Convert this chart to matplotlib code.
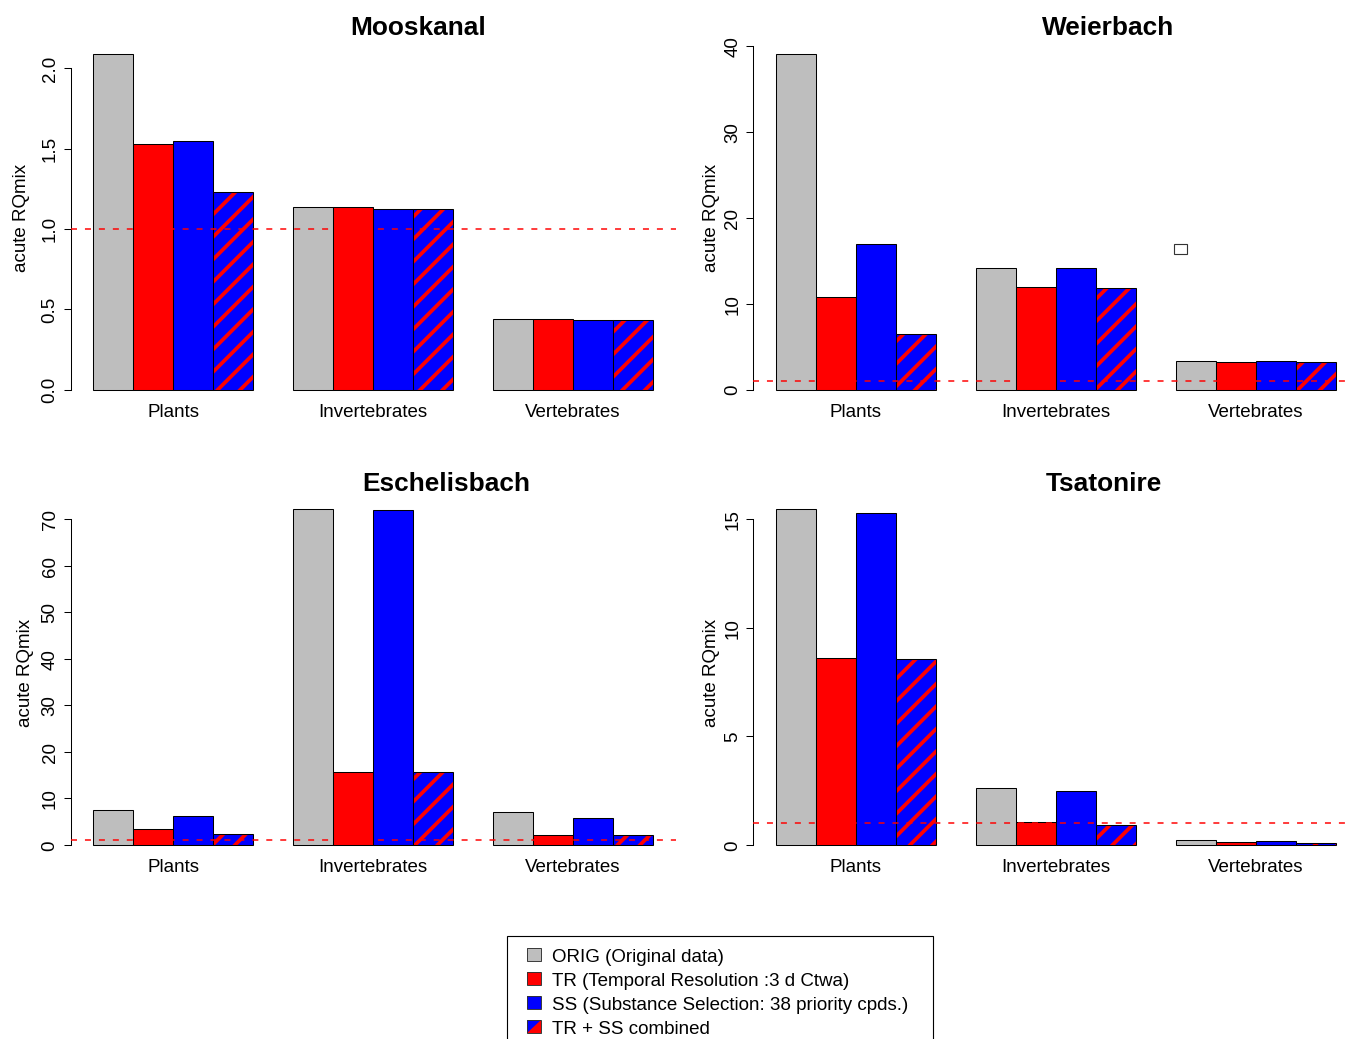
import matplotlib
matplotlib.use('Agg')
import matplotlib.pyplot as plt
import matplotlib.transforms as mtransforms
from matplotlib.patches import Rectangle, Polygon
import numpy as np

# datos
sites = ['Mooskanal', 'Weierbach', 'Eschelisbach', 'Tsatonire']
categories = ['Plants', 'Invertebrates', 'Vertebrates']

orig_vals = [[2.09, 1.14, 0.44], [39.1, 14.2, 3.33], [7.6, 72.1, 7.1], [15.45, 2.61, 0.21]]
tr_vals = [[1.53, 1.14, 0.44], [10.8, 11.95, 3.26], [3.45, 15.75, 2.15], [8.6, 1.07, 0.15]]
ss_vals = [[1.545, 1.125, 0.435], [17.0, 14.15, 3.33], [6.15, 71.9, 5.8], [15.3, 2.5, 0.18]]
comb_vals = [[1.23, 1.125, 0.435], [6.55, 11.9, 3.26], [2.35, 15.7, 2.08], [8.57, 0.92, 0.11]]

yticks = [[0, 0.5, 1.0, 1.5, 2.0], [0, 10, 20, 30, 40],
          [0, 10, 20, 30, 40, 50, 60, 70], [0, 5, 10, 15]]
ytick_labels = [['0.0', '0.5', '1.0', '1.5', '2.0'], ['0', '10', '20', '30', '40'],
                ['0', '10', '20', '30', '40', '50', '60', '70'], ['0', '5', '10', '15']]

legend_labels = ['ORIG (Original data)', 'TR (Temporal Resolution :3 d Ctwa)',
                 'SS (Substance Selection: 38 priority cpds.)', 'TR + SS combined']

threshold = 1.0
stray_box = (11.11, 16.4)  # cuadrito suelto en Weierbach

GREY, RED, BLUE = '#bebebe', '#ff0000', '#0000ff'

DPI = 135
W, H = 1352, 1039

plt.rcParams['font.family'] = ['Liberation Sans', 'DejaVu Sans']
plt.rcParams['hatch.linewidth'] = 2.0

fig = plt.figure(figsize=((W + 0.3) / DPI, (H + 0.3) / DPI), dpi=DPI)


def fx(x):
    return x / W


def fy(y):
    return 1 - y / H


# regiones de dibujo en píxeles
cols = [(70.6, 675.4), (753.3, 1358.1)]
rows = [(40.5, 407.0), (496.0, 862.0)]
title_x = [418, 1108, 446, 1104]
title_base = [35, 491]
ylab_x = [21, 711, 25, 711]
ylab_y = [217.5, 672.5]
cat_base = [417, 872]

for i, site in enumerate(sites):
    r, c = divmod(i, 2)
    L, R = cols[c]
    T, B = rows[r]
    ax = fig.add_axes([fx(L), fy(B), (R - L) / W, (B - T) / H])

    groups = np.arange(len(categories)) * 5 + 1
    series = [orig_vals[i], tr_vals[i], ss_vals[i], comb_vals[i]]
    colors = [GREY, RED, BLUE, BLUE]
    for k, (vals, col) in enumerate(zip(series, colors)):
        left = groups + k
        if k == 3:
            ax.bar(left, vals, width=1, align='edge', color=BLUE, edgecolor=RED,
                   hatch='//', linewidth=0)
            ax.bar(left, vals, width=1, align='edge', fill=False,
                   edgecolor='black', linewidth=0.55)
        else:
            ax.bar(left, vals, width=1, align='edge', color=col,
                   edgecolor='black', linewidth=0.55)

    ax.axhline(threshold, color=RED, lw=0.8, ls=(0, (4, 5.3)), zorder=5)

    # límites al estilo de barplot de R
    ymax = max(max(s) for s in series)
    lo = -0.01 * ymax
    ext = 0.04 * (ymax - lo)
    ax.set_ylim(lo - ext, ymax + ext)
    ax.set_xlim(groups[0] - 0.56, groups[-1] + 4 + 0.56)

    ax.set_xticks([])
    ax.set_yticks(yticks[i])
    ax.set_yticklabels(ytick_labels[i])
    ax.tick_params(axis='y', labelrotation=90, length=3.7, width=0.55, pad=2.7,
                   labelsize=10)
    for lab in ax.get_yticklabels():
        lab.set_va('center')
    for s in ['top', 'right', 'bottom']:
        ax.spines[s].set_visible(False)
    ax.spines['left'].set_bounds(yticks[i][0], yticks[i][-1])
    ax.spines['left'].set_linewidth(0.55)
    ax.patch.set_visible(False)

    trans = mtransforms.blended_transform_factory(ax.transData, fig.transFigure)
    for g, cat in zip(groups, categories):
        ax.text(g + 2, fy(cat_base[r]), cat, transform=trans, ha='center',
                va='baseline', fontsize=10)

    fig.text(fx(title_x[i]), fy(title_base[r]), site, ha='center', va='baseline',
             fontsize=14, fontweight='bold')
    fig.text(fx(ylab_x[i]), fy(ylab_y[r]), 'acute RQmix', rotation=90,
             ha='center', va='center', fontsize=10)

    if i == 1:
        ax.add_patch(Rectangle((stray_box[0] - 0.165, stray_box[1] - 0.58), 0.33, 1.16,
                               fill=False, edgecolor='#333333', linewidth=0.6))

# leyenda dibujada a mano (queda cortada abajo como en el original)
fig.add_artist(Rectangle((fx(507), fy(1050)), (933 - 507) / W, (1050 - 936) / H,
                         transform=fig.transFigure, fill=False,
                         edgecolor='black', linewidth=0.6))
key_colors = [GREY, RED, BLUE, BLUE]
for j, (lab, col) in enumerate(zip(legend_labels, key_colors)):
    cy = 955 + 24 * j
    fig.add_artist(Rectangle((fx(527), fy(cy + 6.5)), 14 / W, 13 / H,
                             transform=fig.transFigure, facecolor=col,
                             edgecolor='none'))
    if j == 3:
        fig.add_artist(Polygon([(fx(541), fy(cy - 6.5)), (fx(541), fy(cy + 6.5)),
                                (fx(527), fy(cy + 6.5))],
                               closed=True, transform=fig.transFigure,
                               facecolor=RED, edgecolor='none'))
    fig.add_artist(Rectangle((fx(527), fy(cy + 6.5)), 14 / W, 13 / H,
                             transform=fig.transFigure, fill=False,
                             edgecolor='#333333', linewidth=0.5))
    fig.text(fx(552), fy(cy + 6.7), lab, va='baseline', fontsize=10)

fig.savefig('out.png', dpi=DPI)
